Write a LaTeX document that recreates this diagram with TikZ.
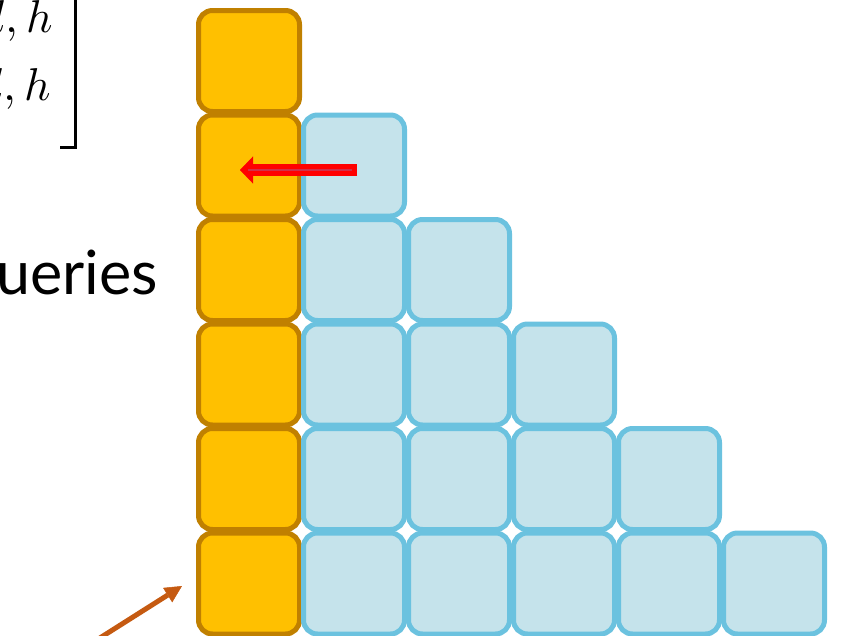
\documentclass[tikz,border=0pt]{standalone}
\usepackage{fontspec,unicode-math}
\newfontfamily\labelfont{Lato}
\usetikzlibrary{arrows.meta,calc}

\definecolor{keyfill}{HTML}{FFC000}
\definecolor{keyline}{HTML}{C08000}
\definecolor{cellfill}{HTML}{C5E3EB}
\definecolor{cellline}{HTML}{6BC2DF}
\definecolor{pointcol}{HTML}{C55A11}
\definecolor{copymid}{HTML}{D0304A}

\begin{document}
\begin{tikzpicture}[x=1pt,y=-1pt,
  cell/.style={draw,line width=5pt,rounded corners=14pt,minimum size=101pt,inner sep=0pt},
  keycell/.style={cell,draw=keyline,fill=keyfill},
  qcell/.style={cell,draw=cellline,fill=cellfill},
  mathlbl/.style={anchor=base east,inner sep=0pt,font=\fontsize{46}{54}\selectfont},
  copyarrow/.style={red,line width=12pt,-{Triangle[length=13pt,width=27pt,line width=0.5pt]}},
  pointer/.style={pointcol,line width=5pt,-{Triangle[length=17pt,width=17pt,line width=0.5pt]}}]
\useasboundingbox (0,0) rectangle (846,635);
% matrix entries and bracket, cut at the left edge
\node[mathlbl] (row1) at (53,32) {$l,h$};
\node[mathlbl] (row2) at (51,100) {$l,h$};
\draw[line width=3pt] (60,147) -- (75,147) -- (75,-5);
\node[anchor=base east,inner sep=0pt,font=\labelfont\fontsize{61}{72}\selectfont] (qry) at (158,294) {queries};
% key column
\foreach \r in {0,...,5}
  \node[keycell] (o\r) at (249,{61+104.5*\r}) {};
% query cells
\foreach \r in {1,...,5}
  \foreach \c in {1,...,\r}
    \node[qcell] (b\r\c) at ({249+105*\c},{61+104.5*\r}) {};
% arrows
\draw[copyarrow,shorten <=-3pt,shorten >=-9pt] ($(b11.center)+(0,4.5)$) -- ($(o1.center)+(0,4.5)$);
\draw[copymid,line width=1.6pt,shorten <=2pt,shorten >=-1pt] ($(b11.center)+(0,4.5)$) -- ($(o1.center)+(0,4.5)$);
\coordinate (tail) at (73,655);
\draw[pointer] (tail) -- ($(o5.west)+(-14,2.5)$);
\end{tikzpicture}
\end{document}
